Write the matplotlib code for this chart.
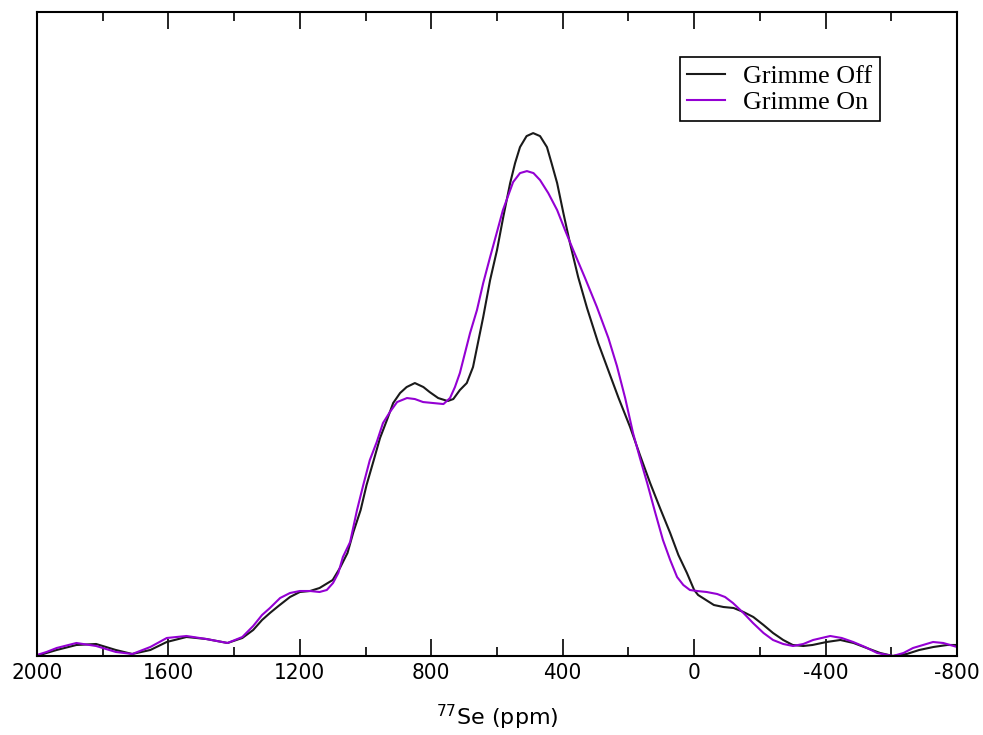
import matplotlib
matplotlib.use("Agg")
import matplotlib.pyplot as plt
from matplotlib.ticker import MultipleLocator

# 77Se chemical shift (ppm) and intensity
ppm_off = [2000, 1971, 1940, 1880, 1820, 1760, 1710, 1655, 1605, 1545, 1485, 1420,
           1375, 1342, 1315, 1291, 1265, 1230, 1200, 1169, 1140, 1100, 1078, 1055,
           1037, 1015, 997, 975, 956, 935, 916, 895, 875, 850, 824, 805, 779, 750,
           733, 713, 692, 673, 642, 621, 600, 581, 560, 545, 530, 510, 490, 469,
           448, 434, 417, 398, 378, 353, 326, 292, 265, 230, 195, 165, 134, 104,
           73, 48, 22, 0, -12, -60, -89, -120, -150, -180, -211, -240, -271, -300,
           -332, -360, -403, -445, -485, -525, -566, -605, -647, -685, -728, -770,
           -800]
grimme_off = [0, 3, 6, 11, 12, 6, 2, 6, 14, 19, 17, 13,
              18, 26, 36, 43, 50, 59, 64, 65, 68, 76, 88, 103,
              124, 146, 171, 196, 218, 236, 253, 263, 269, 273, 269, 264, 258, 255,
              257, 266, 273, 289, 339, 376, 406, 439, 473, 493, 509, 520, 523, 520,
              509, 493, 473, 443, 413, 379, 348, 313, 289, 258, 229, 201, 173, 148,
              123, 101, 83, 66, 61, 51, 49, 48, 44, 39, 31, 23, 16, 11,
              10, 11, 14, 16, 13, 8, 3, 0, 2, 6, 9, 11,
              11]

ppm_on = [2000, 1971, 1940, 1880, 1820, 1760, 1710, 1655, 1605, 1545, 1485, 1420,
          1375, 1342, 1315, 1291, 1260, 1230, 1200, 1169, 1140, 1118, 1099, 1083,
          1069, 1047, 1026, 1007, 987, 966, 947, 926, 904, 874, 850, 825, 794, 763,
          743, 728, 713, 682, 661, 642, 621, 601, 582, 551, 530, 509, 489, 469,
          444, 417, 393, 368, 332, 296, 261, 235, 210, 186, 165, 143, 119, 95,
          73, 52, 33, 13, -9, -38, -70, -94, -118, -150, -179, -211, -240, -271,
          -301, -332, -362, -414, -449, -484, -520, -557, -605, -637, -666, -727,
          -758, -800]
grimme_on = [1, 4, 8, 13, 10, 4, 2, 9, 18, 20, 17, 13,
             19, 30, 41, 48, 58, 63, 65, 65, 64, 66, 73, 83,
             99, 114, 146, 171, 196, 214, 233, 244, 254, 258, 257, 254, 253, 252,
             258, 269, 283, 323, 346, 373, 399, 423, 446, 474, 483, 485, 483, 476,
             463, 446, 426, 406, 378, 349, 318, 290, 258, 223, 198, 173, 144, 116,
             96, 79, 71, 66, 65, 64, 62, 59, 53, 43, 33, 23, 16, 12,
             10, 12, 16, 20, 18, 14, 9, 3, 0, 3, 8, 14,
             13, 9]

x_ticks = [2000, 1600, 1200, 800, 400, 0, -400, -800]

fig = plt.figure(figsize=(9.83, 7.35), dpi=100)
ax = fig.add_axes([0.0376, 0.1075, 0.936, 0.876])

ax.plot(ppm_off, grimme_off, color="#1a1a1a", lw=1.5, label="Grimme Off")
ax.plot(ppm_on, grimme_on, color="#9400D3", lw=1.5, label="Grimme On")

ax.set_xlim(2000, -800)
ax.set_ylim(0, 644)
ax.set_xticks(x_ticks)
ax.set_xticklabels([str(t) for t in x_ticks], family="DejaVu Sans",
                   stretch="condensed", fontsize=16)
ax.xaxis.set_minor_locator(MultipleLocator(200))
ax.set_yticks([])
ax.tick_params(axis="x", which="major", direction="in", length=12, width=1.2,
               top=True, pad=5)
ax.tick_params(axis="x", which="minor", direction="in", length=6.5, width=1.2, top=True)
for s in ax.spines.values():
    s.set_linewidth(1.5)

ax.set_xlabel(r"$^{77}$Se (ppm)", family="DejaVu Sans", fontsize=16, labelpad=14)

leg = ax.legend(loc="upper left", bbox_to_anchor=(0.699, 0.930), borderaxespad=0,
                prop={"family": "Liberation Serif", "size": 18.7}, fancybox=False,
                edgecolor="black", framealpha=1, handlelength=1.45,
                handletextpad=0.7, labelspacing=0.12, borderpad=0.28)
leg.get_frame().set_linewidth(1.2)

fig.savefig("out.png", dpi=100)
